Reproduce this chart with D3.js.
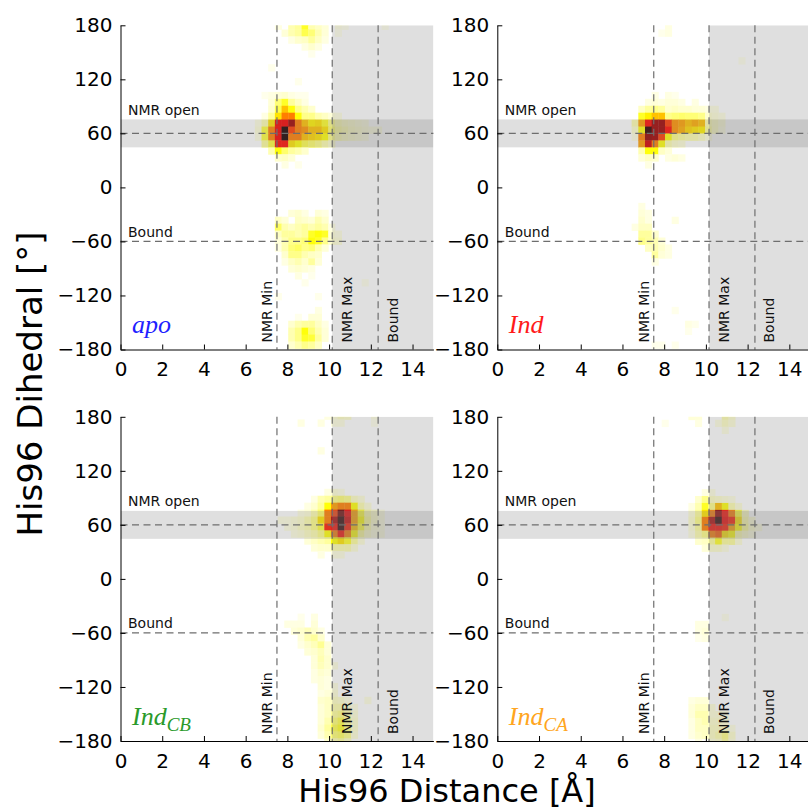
<!DOCTYPE html>
<html><head><meta charset="utf-8">
<script src="https://cdn.jsdelivr.net/npm/d3@7"></script>
<style>body{margin:0;background:#fff}svg{display:block}</style>
</head><body>
<svg id="chart" width="808" height="809"></svg>
<script>
// ---------------- DATA ----------------
const binW = 0.32, binH = 7.7;           // histogram bin size (Å, degrees)
const xTicks = [0, 2, 4, 6, 8, 10, 12, 14];
const yTicks = [180, 120, 60, 0, -60, -120, -180];
const vLines = [7.5, 10.15, 12.35];
const vLabels = ["NMR Min", "NMR Max", "Bound"];
const hLines = [60, -60];
const hLabels = ["NMR open", "Bound"];
const openBand = [44.5, 75.5];
const maxRegion = [10.15, 15];
const panelMain = ["apo", "Ind", "Ind", "Ind"];
const panelSub = ["", "", "CB", "CA"];
const panelColors = ["#1f1fff", "#ff1a1a", "#2a9a2a", "#ffa520"];

// rows: [dihedral centre, first distance centre, densities of consecutive bins (0-100)]
const apoCells = [
  [179.2, 7.56, [3,0,8,10,22,8,6,4,0,3,2,0,0,0,0,0,2]],
  [171.5, 7.88, [4,8,10,18,14,8,4,0,2]],
  [163.8, 8.20, [3,5,6,10,6,3]],
  [156.1, 8.84, [3,5,3]],
  [148.4, 9.16, [2]],
  [133.0, 7.24, [2]],
  [117.6, 8.52, [2]],
  [102.2, 6.92, [2,3,4,5,3,2,2]],
  [94.5, 7.24, [4,14,22,10,6,3]],
  [86.8, 7.24, [5,18,35,25,12,8,5]],
  [79.1, 6.92, [3,10,30,45,45,25,12,12,8,6,4,3]],
  [71.4, 6.60, [3,8,30,65,65,78,45,35,28,30,22,12,8,6,5,4,3]],
  [63.7, 6.60, [4,20,45,65,98,55,45,42,35,35,30,15,10,8,6,5,4,3,3]],
  [56.0, 6.60, [3,20,45,65,98,45,45,35,32,30,25,12,8,6,5,4,3]],
  [48.3, 6.92, [10,20,62,62,30,25,18,15,12,8,5]],
  [40.6, 7.24, [8,25,15,10,8,5]],
  [32.9, 7.56, [5,6,4]],
  [25.2, 7.88, [3,0,2]],
  [-28.7, 8.20, [4,5,3,0,4,3]],
  [-36.4, 7.56, [6,4,0,6,5,4,8,5]],
  [-44.1, 7.56, [16,8,6,8,10,8,10,8,3]],
  [-51.8, 7.56, [6,10,10,8,10,22,25,22,4,3]],
  [-59.5, 7.56, [4,8,12,12,14,25,22,12,5,4]],
  [-67.2, 7.56, [3,8,14,16,12,14,8,4]],
  [-74.9, 7.88, [5,12,12,8,6,5]],
  [-82.6, 7.88, [3,6,8,5,10,4]],
  [-90.3, 8.20, [4,5,4,3]],
  [-98.0, 8.52, [3,0,2]],
  [-105.7, 8.84, [2,0,0,0,0,0,0,0,0,2]],
  [-121.1, 7.56, [2,0,0,0,0,0,2]],
  [-136.5, 9.48, [3]],
  [-144.2, 8.52, [2,0,4,4]],
  [-151.9, 8.20, [5,8,10,10,6,3]],
  [-159.6, 8.20, [8,12,25,14,8,4]],
  [-167.3, 8.20, [8,12,22,20,10,4]],
  [-175.0, 8.20, [5,8,12,10,6]]
];
const indCells = [
  [179.2, 8.20, [3]],
  [171.5, 7.88, [2,3]],
  [140.7, 11.72, [2]],
  [102.2, 7.56, [3,0,3,2]],
  [94.5, 7.24, [3,4,3,4,4,3,0,3]],
  [86.8, 6.92, [6,10,12,10,5,6,5,5,4,4,3,3]],
  [79.1, 6.92, [22,28,35,35,12,14,15,14,14,12,5,4,3]],
  [71.4, 6.60, [8,40,62,78,78,55,42,40,35,38,35,8,6,4]],
  [63.7, 6.60, [5,25,95,78,78,62,42,38,32,30,28,10,6,3]],
  [56.0, 6.60, [3,45,80,78,55,25,12,10,8,8,6,3]],
  [48.3, 6.92, [40,70,45,25,8,5,4]],
  [40.6, 6.92, [8,25,25,6,4]],
  [32.9, 6.92, [4,6,5,0,3,4,3]],
  [25.2, 7.24, [3]],
  [-21.0, 6.92, [3]],
  [-28.7, 6.92, [4,3]],
  [-36.4, 6.92, [5,3,0,0,0,3]],
  [-44.1, 6.60, [3,6,6]],
  [-51.8, 6.92, [10,10,5]],
  [-59.5, 6.92, [12,10,8,4]],
  [-67.2, 7.24, [6,8,5,3]],
  [-74.9, 7.56, [10,4,3]],
  [-82.6, 7.56, [3]],
  [-136.5, 8.52, [2]],
  [-151.9, 9.16, [3,2]],
  [-159.6, 9.16, [2]],
  [-175.0, 7.56, [2,2,0,2]]
];
const cbCells = [
  [180.9, 9.93, [3,4,6,5,0,0,0,3]],
  [173.2, 8.65, [3,0,0,3,0,3,3,0,0,0,0,2]],
  [142.4, 9.61, [3]],
  [96.2, 9.93, [3,4,3]],
  [88.5, 9.29, [3,8,10,12,14,12,6,4]],
  [80.8, 8.97, [3,5,10,25,40,45,45,25,8,4]],
  [73.1, 8.65, [3,4,8,15,45,55,85,65,40,20,8,5,3]],
  [65.4, 7.69, [3,3,4,5,8,12,30,45,75,95,70,40,25,10,5,3]],
  [57.7, 8.01, [3,4,6,8,12,20,60,62,95,60,35,20,8,4,3]],
  [50.0, 8.33, [3,4,6,8,12,25,45,62,45,25,10,5,3,3]],
  [42.3, 8.97, [4,6,8,10,25,30,22,10,4]],
  [34.6, 9.29, [4,5,5,8,8,8,4]],
  [26.9, 9.61, [3,0,3,3]],
  [-42.4, 8.65, [2,0,3]],
  [-50.1, 8.01, [3,3,3,0,4]],
  [-57.8, 8.33, [4,5,7,5,3]],
  [-65.5, 8.65, [4,8,10,5]],
  [-73.2, 8.65, [3,5,7,11,4]],
  [-80.9, 8.97, [4,5,7,4]],
  [-88.6, 9.29, [4,8,5]],
  [-96.3, 9.29, [4,7,5,3]],
  [-104.0, 9.29, [3,5,4]],
  [-111.7, 9.29, [3,4,3]],
  [-119.4, 9.61, [4,3,3]],
  [-127.1, 9.61, [3,4,4]],
  [-134.8, 9.61, [5,6,6,5,3,0,0,3]],
  [-142.5, 9.61, [4,6,8,8,5,3]],
  [-150.2, 9.61, [4,6,10,12,8,4]],
  [-157.9, 9.61, [4,8,14,18,10,5]],
  [-165.6, 9.61, [5,10,18,22,12,5]],
  [-173.3, 9.61, [4,8,14,16,12,4]],
  [-181.0, 9.93, [5,8,10,6]]
];
const caCells = [
  [180.6, 9.32, [4,4,0,0,0,8,5]],
  [172.9, 8.04, [2,0,0,0,0,3,0,0,3,6,4]],
  [165.2, 10.92, [3]],
  [95.9, 9.96, [3,3]],
  [88.2, 9.64, [5,12,6,5,4,3]],
  [80.5, 9.32, [3,8,22,12,35,25,8,4]],
  [72.8, 9.32, [4,10,30,45,80,62,45,20,6]],
  [65.1, 9.32, [5,12,45,75,95,65,60,30,8,4]],
  [57.4, 9.32, [4,10,45,62,62,60,40,25,10,5,3]],
  [49.7, 9.32, [3,8,12,45,50,30,25,8,5,3]],
  [42.0, 9.64, [5,6,10,22,10,10,4]],
  [34.3, 9.96, [4,5,5,3]],
  [-42.7, 10.92, [2]],
  [-50.4, 9.64, [3,3]],
  [-58.1, 9.64, [3,4]],
  [-65.8, 9.64, [2,3]],
  [-135.1, 9.32, [3,4,4]],
  [-142.8, 9.32, [4,6,6,4]],
  [-150.5, 9.32, [4,8,8,4,4,3]],
  [-158.2, 9.32, [3,6,8,5,5,4]],
  [-165.9, 9.32, [3,6,6,6,6,6,3]],
  [-173.6, 9.32, [3,5,6,6,8,12,5]],
  [-181.3, 9.64, [3,0,4,5,10,4]]
];
const panelCells = [apoCells, indCells, cbCells, caCells];

// ---------------- LAYOUT ----------------
const svg = d3.select("#chart");
const lefts = [120.5, 497.3], tops = [25.3, 416.8];
const pw = 312.9, ph = 324.2;

function hotR(t) {
  const s = 1 - Math.max(0, Math.min(1, t));
  const r = Math.min(1, 0.0416 + s / 0.365 * 0.9584);
  const g = Math.max(0, Math.min(1, (s - 0.365) / 0.375));
  const b = Math.max(0, Math.min(1, (s - 0.74) / 0.26));
  return d3.rgb(r * 255, g * 255, b * 255).toString();
}
const color = d3.scaleSequential(hotR).domain([0, 100]);

panelCells.forEach((cells, p) => {
  const col = p % 2, row = Math.floor(p / 2);
  const x0 = lefts[col], y0 = tops[row];
  const xs = d3.scaleLinear().domain([0, 15]).range([x0, x0 + pw]);
  const ys = d3.scaleLinear().domain([-180, 180]).range([y0 + ph, y0]);
  const g = svg.append("g");
  const clipId = "clip" + p;
  svg.append("clipPath").attr("id", clipId).append("rect")
    .attr("x", x0).attr("y", y0).attr("width", pw).attr("height", ph);

  // heatmap cells
  const flat = [];
  cells.forEach(([yc, xStart, vals]) => {
    vals.forEach((v, i) => { if (v > 0) flat.push({x: xStart + i * binW, y: yc, v}); });
  });
  const hm = g.append("g").attr("clip-path", `url(#${clipId})`);
  hm.selectAll("rect").data(flat).join("rect")
    .attr("x", d => xs(d.x - binW / 2))
    .attr("y", d => ys(d.y + binH / 2))
    .attr("width", d => xs(d.x + binW / 2) - xs(d.x - binW / 2) + 0.4)
    .attr("height", d => ys(d.y - binH / 2) - ys(d.y + binH / 2) + 0.4)
    .attr("fill", d => color(d.v));

  // shaded regions
  hm.append("rect").attr("x", xs(0)).attr("width", xs(15) - xs(0))
    .attr("y", ys(openBand[1])).attr("height", ys(openBand[0]) - ys(openBand[1]))
    .attr("fill", "#808080").attr("fill-opacity", 0.25);
  hm.append("rect").attr("x", xs(maxRegion[0])).attr("width", xs(maxRegion[1]) - xs(maxRegion[0]))
    .attr("y", ys(180)).attr("height", ys(-180) - ys(180))
    .attr("fill", "#808080").attr("fill-opacity", 0.25);

  // dashed reference lines
  vLines.forEach(v => {
    g.append("line").attr("x1", xs(v)).attr("x2", xs(v)).attr("y1", ys(180)).attr("y2", ys(-180))
      .attr("stroke", "#6e6e6e").attr("stroke-width", 1.2).attr("stroke-dasharray", "7,4.5");
  });
  hLines.forEach(h => {
    g.append("line").attr("x1", xs(0)).attr("x2", xs(15)).attr("y1", ys(h)).attr("y2", ys(h))
      .attr("stroke", "#6e6e6e").attr("stroke-width", 1.2).attr("stroke-dasharray", "7,4.5");
  });

  // reference labels
  const vOff = [-4.5, 19.5, 19.5];
  vLines.forEach((v, i) => {
    g.append("text").attr("transform", `translate(${xs(v) + vOff[i]},${ys(-180) - 7}) rotate(-90)`)
      .attr("font-family", "DejaVu Sans").attr("font-size", 14).attr("fill", "#111")
      .text(vLabels[i]);
  });
  hLines.forEach((h, i) => {
    g.append("text").attr("x", xs(0) + 7.5).attr("y", ys(h) - (i === 0 ? 18.5 : 4.5))
      .attr("font-family", "DejaVu Sans").attr("font-size", 14).attr("fill", "#111")
      .text(hLabels[i]);
  });

  // panel label
  const lab = g.append("text").attr("x", xs(0) + 11.5).attr("y", ys(-180) - 16.5)
    .attr("font-family", "Liberation Serif").attr("font-style", "italic")
    .attr("font-size", 26).attr("fill", panelColors[p]);
  lab.append("tspan").text(panelMain[p]);
  if (panelSub[p]) lab.append("tspan").attr("font-size", 19).attr("dy", 6).text(panelSub[p]);

  // axes
  const ax = g.append("g").attr("transform", `translate(0,${ys(-180)})`)
    .call(d3.axisBottom(xs).tickValues(xTicks).tickSize(-5).tickSizeOuter(0).tickPadding(12.5).tickFormat(d3.format("d")));
  const ay = g.append("g").attr("transform", `translate(${xs(0)},0)`)
    .call(d3.axisLeft(ys).tickValues(yTicks).tickSize(-5).tickSizeOuter(0).tickPadding(8).tickFormat(d3.format("d")));
  [ax, ay].forEach(a => {
    a.selectAll("text").attr("font-family", "DejaVu Sans").attr("font-size", 20).attr("fill", "#000");
    a.selectAll("line").attr("stroke", "#000");
    a.select(".domain").attr("stroke", "#000").attr("stroke-width", 1);
  });
});

// axis titles
svg.append("text").attr("x", 447).attr("y", 802).attr("text-anchor", "middle")
  .attr("font-family", "DejaVu Sans").attr("font-size", 32).text("His96 Distance [Å]");
svg.append("text").attr("transform", "translate(42,384) rotate(-90)").attr("text-anchor", "middle")
  .attr("font-family", "DejaVu Sans").attr("font-size", 34).text("His96 Dihedral [°]");
</script>
</body></html>
